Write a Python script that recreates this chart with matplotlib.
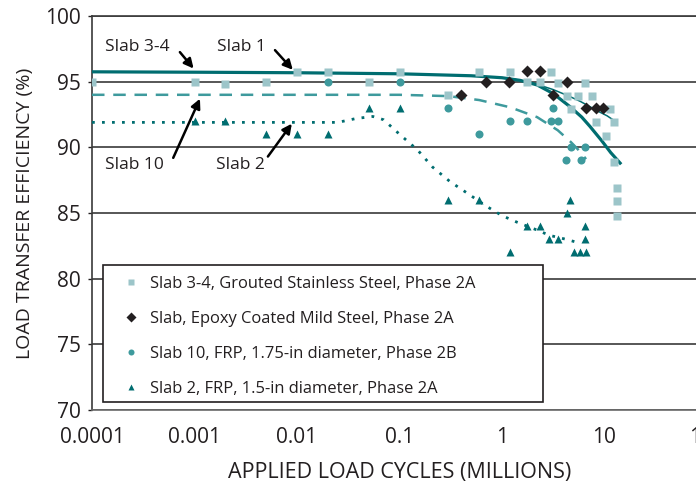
import matplotlib
matplotlib.use("Agg")
import matplotlib.pyplot as plt
from matplotlib.patches import Rectangle
from matplotlib.ticker import FixedLocator, FixedFormatter, NullLocator

# Measured points (cycles in millions, load transfer efficiency in %)
slab34_x = [0.0001, 0.001, 0.002, 0.005, 0.01, 0.02, 0.05, 0.1, 0.3, 0.6,
            1.2, 1.75, 2.35, 3.0, 3.5, 4.3, 4.7, 5.5, 6.45, 7.5,
            8.3, 10.3, 11.3, 12.4, 12.4, 13.2, 13.2, 13.2]
slab34_y = [95, 95, 94.8, 95, 95.7, 95.7, 95, 95.7, 94, 95.7,
            95.7, 95, 95, 95.7, 94.9, 93.9, 92.9, 93.9, 94.9, 93.9,
            91.9, 90.9, 92.9, 91.9, 88.9, 86.9, 85.9, 84.8]

epoxy_x = [0.4, 0.7, 1.17, 1.75, 2.35, 3.15, 4.3, 6.6, 8.3, 9.6]
epoxy_y = [94, 95, 95, 95.8, 95.8, 94, 95, 93, 93, 93]

slab10_x = [0.02, 0.1, 0.3, 0.6, 1.2, 1.75, 3.0, 3.15, 3.5, 4.2, 4.7, 5.9, 6.45]
slab10_y = [95, 95, 93, 91, 92, 92, 92, 93, 92, 89, 90, 89, 90]

slab2_x = [0.001, 0.002, 0.005, 0.01, 0.02, 0.05, 0.1, 0.3, 0.6, 1.2,
           1.75, 2.35, 2.87, 3.5, 4.3, 4.6, 5.0, 5.8, 6.45, 6.45, 6.6]
slab2_y = [92, 92, 91, 91, 91, 93, 93, 86, 86, 82,
           84, 84, 83, 83, 85, 86, 82, 82, 84, 83, 82]

# Trend lines
trend_main_x = [0.0001, 0.001, 0.01, 0.1, 0.5, 1.0, 1.5, 2.2, 3.15, 4.6,
                6.0, 7.2, 9.4, 11.5, 14.2]
trend_main_y = [95.75, 95.72, 95.68, 95.6, 95.45, 95.3, 95.1, 94.75, 94.1, 93.1,
                92.3, 91.6, 90.5, 89.6, 88.8]

trend_thin_x = [1.2, 2.0, 3.15, 4.5, 5.8, 7.2, 8.4, 10.6, 13.2]
trend_thin_y = [95.25, 94.9, 94.4, 93.9, 93.5, 93.1, 92.8, 92.4, 91.9]

trend_10_x = [0.0001, 0.1, 0.3, 0.6, 1.2, 2.2, 3.5, 4.7, 5.9, 6.6]
trend_10_y = [94, 94, 93.9, 93.6, 93.05, 92.3, 91.3, 90.4, 89.6, 89.1]

trend_2_x = [0.0001, 0.025, 0.038, 0.055, 0.07, 0.1, 0.15, 0.21, 0.31, 0.46,
             0.71, 1.0, 1.4, 2.2, 2.9, 4.2, 5.2]
trend_2_y = [91.9, 91.9, 92.2, 92.35, 92.1, 91.0, 89.8, 88.5, 87.4, 86.5,
             85.5, 84.8, 84.3, 83.7, 83.3, 83.0, 82.8]

x_ticks = [0.0001, 0.001, 0.01, 0.1, 1, 10, 100]
x_tick_labels = ["0.0001", "0.001", "0.01", "0.1", "1", "10", "100"]
y_ticks = [70, 75, 80, 85, 90, 95, 100]

legend_labels = [
    "Slab 3-4, Grouted Stainless Steel, Phase 2A",
    "Slab, Epoxy Coated Mild Steel, Phase 2A",
    "Slab 10, FRP, 1.75-in diameter, Phase 2B",
    "Slab 2, FRP, 1.5-in diameter, Phase 2A",
]

LIGHT = "#9cc5c9"
MID = "#3e9a9d"
DARK = "#006d70"
BLACK = "#231f20"

plt.rcParams["font.family"] = ["Open Sans", "DejaVu Sans"]

fig = plt.figure(figsize=(6.96, 4.87), dpi=100)
ax = fig.add_axes([92 / 696, 77 / 487, 615 / 696, 394 / 487])

# Trend lines
ax.plot(trend_main_x, trend_main_y, color=DARK, lw=2.3, zorder=3)
ax.plot(trend_thin_x, trend_thin_y, color=DARK, lw=1.1, zorder=3)
ax.plot(trend_10_x, trend_10_y, color=MID, lw=1.8, linestyle=(0, (5, 3.5)), zorder=3)
ax.plot(trend_2_x, trend_2_y, color=DARK, lw=2.0, linestyle=(0, (1, 2.6)), zorder=3)

# Measured points
ax.plot(slab34_x, slab34_y, "s", color=LIGHT, ms=6.4, mec="none", label=legend_labels[0], zorder=4)
ax.plot(epoxy_x, epoxy_y, "D", color=BLACK, ms=6.2, mec="none", label=legend_labels[1], zorder=4)
ax.plot(slab10_x, slab10_y, "o", color=MID, ms=5.8, mec="none", label=legend_labels[2], zorder=4)
ax.plot(slab2_x, slab2_y, "^", color=DARK, ms=6.4, mec="none", label=legend_labels[3], zorder=4)

ax.set_xscale("log")
ax.set_xlim(0.0001, 100)
ax.set_ylim(70, 100)

ax.xaxis.set_major_locator(FixedLocator(x_ticks))
ax.xaxis.set_major_formatter(FixedFormatter(x_tick_labels))
ax.xaxis.set_minor_locator(NullLocator())
ax.set_yticks(y_ticks)

ax.tick_params(axis="x", length=0, pad=12, labelsize=15, colors="#231f20")
ax.tick_params(axis="y", length=3, width=1, direction="out", pad=5, labelsize=15, colors="#231f20")

ax.grid(axis="y", color="#3a3a3a", lw=1.2)
ax.set_axisbelow(True)

for side in ["left", "top"]:
    ax.spines[side].set_color("#3a3a3a")
    ax.spines[side].set_linewidth(1.2)
ax.spines["bottom"].set_color("#6a6a6a")
ax.spines["bottom"].set_linewidth(1.2)
ax.spines["right"].set_visible(False)

ax.set_xlabel("APPLIED LOAD CYCLES (MILLIONS)", fontsize=15.5, color="#231f20", labelpad=10)
ax.set_ylabel("LOAD TRANSFER EFFICIENCY (%)", fontsize=14, color="#231f20", labelpad=8)

# Labels with arrows
arrow_style = dict(arrowstyle="-|>", color="black", lw=1.8, mutation_scale=14, shrinkA=0, shrinkB=0)
ax.annotate("", xy=(0.00098, 96.0), xytext=(0.00072, 97.25), arrowprops=arrow_style, zorder=5)
ax.annotate("", xy=(0.0091, 95.9), xytext=(0.0061, 97.4), arrowprops=arrow_style, zorder=5)
ax.annotate("", xy=(0.00113, 93.7), xytext=(0.00062, 89.2), arrowprops=arrow_style, zorder=5)
ax.annotate("", xy=(0.0089, 91.8), xytext=(0.0052, 89.3), arrowprops=arrow_style, zorder=5)

ax.text(0.000275, 97.64, "Slab 3-4", fontsize=12.5, ha="center", va="center", color="#231f20")
ax.text(0.00284, 97.64, "Slab 1", fontsize=12.5, ha="center", va="center", color="#231f20")
ax.text(0.00026, 88.67, "Slab 10", fontsize=12.5, ha="center", va="center", color="#231f20")
ax.text(0.00278, 88.67, "Slab 2", fontsize=12.5, ha="center", va="center", color="#231f20")

# Legend box
box = Rectangle((103 / 696, 85 / 487), 440 / 696, 137 / 487, transform=fig.transFigure,
                facecolor="white", edgecolor="#231f20", lw=1.2, zorder=6)
ax.add_patch(box)
leg = ax.legend(loc="upper left", bbox_to_anchor=(116 / 696, 219 / 487),
                bbox_transform=fig.transFigure, frameon=False, fontsize=11.9,
                handlelength=0.8, handletextpad=0.75, labelspacing=1.15,
                markerscale=0.75, borderpad=0, labelcolor="#231f20")
leg.set_zorder(7)

fig.savefig("out.png", dpi=100)
